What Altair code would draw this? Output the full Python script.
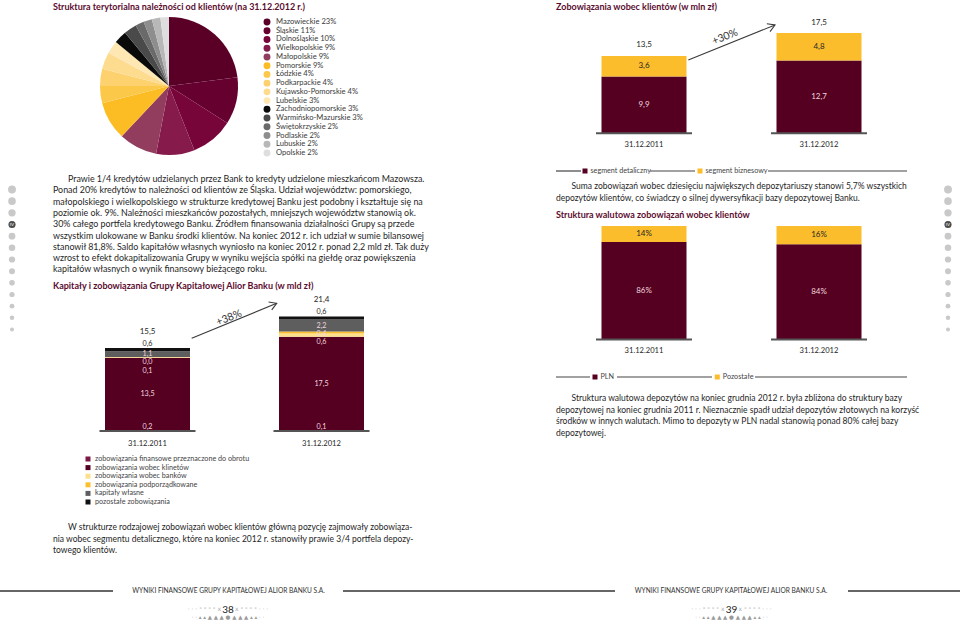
import altair as alt
import pandas as pd

FONT = "Lato"
MAROON = "#550020"
YELLOW = "#fbbd2c"
TXT = "#262626"
TITLE_C = "#5b0d2f"
LBL_LIGHT = "#efd6df"
RULE_C = "#555555"

# ---------------- data ----------------
regions = ["Mazowieckie", "Śląskie", "Dolnośląskie", "Wielkopolskie", "Małopolskie",
           "Pomorskie", "Łódzkie", "Podkarpackie", "Kujawsko-Pomorskie", "Lubelskie",
           "Zachodniopomorskie", "Warmińsko-Mazurskie", "Świętokrzyskie", "Podlaskie",
           "Lubuskie", "Opolskie"]
region_pct = [23, 11, 10, 9, 9, 9, 4, 4, 4, 3, 3, 3, 2, 2, 2, 2]
region_colors = ["#5a0027", "#66002f", "#78053a", "#851a4b", "#923d5e",
                 "#fbbc24", "#fcc84a", "#fdd26e", "#fddc90", "#fee7b3",
                 "#0a0a0a", "#4a4a4a", "#6a6a6a", "#8e8e8e", "#b8b8b8", "#dedede"]

kap_years = ["31.12.2011", "31.12.2012"]
kap_series = ["zobowiązania finansowe przeznaczone do obrotu", "zobowiązania wobec klinetów",
              "zobowiązania wobec banków", "zobowiązania podporządkowane",
              "kapitały własne", "pozostałe zobowiązania"]
kap_colors = ["#7d1744", MAROON, "#fde08c", "#fbc02d", "#5e5e5e", "#111111"]
kap_2011 = [0.2, 13.5, 0.1, 0.0, 1.1, 0.6]
kap_2012 = [0.1, 17.5, 0.6, 0.4, 2.2, 0.6]
kap_totals = [15.5, 21.4]

zob_years = ["31.12.2011", "31.12.2012"]
zob_series = ["segment detaliczny", "segment biznesowy"]
zob_detal = [9.9, 12.7]
zob_biz = [3.6, 4.8]
zob_totals = [13.5, 17.5]

wal_years = ["31.12.2011", "31.12.2012"]
wal_series = ["PLN", "Pozostałe"]
wal_pln = [86, 84]
wal_other = [14, 16]

par1 = ["Prawie 1/4 kredytów udzielanych przez Bank to kredyty udzielone mieszkańcom Mazowsza.",
        "Ponad 20% kredytów to należności od klientów ze Śląska. Udział województw: pomorskiego,",
        "małopolskiego i wielkopolskiego w strukturze kredytowej Banku jest podobny i kształtuje się na",
        "poziomie ok. 9%. Należności mieszkańców pozostałych, mniejszych województw stanowią ok.",
        "30% całego portfela kredytowego Banku. Źródłem finansowania działalności Grupy są przede",
        "wszystkim ulokowane w Banku środki klientów. Na koniec 2012 r. ich udział w sumie bilansowej",
        "stanowił 81,8%. Saldo kapitałów własnych wyniosło na koniec 2012 r. ponad 2,2 mld zł. Tak duży",
        "wzrost to efekt dokapitalizowania Grupy w wyniku wejścia spółki na giełdę oraz powiększenia",
        "kapitałów własnych o wynik finansowy bieżącego roku."]
par2 = ["W strukturze rodzajowej zobowiązań wobec klientów główną pozycję zajmowały zobowiąza-",
        "nia wobec segmentu detalicznego, które na koniec 2012 r. stanowiły prawie 3/4 portfela depozy-",
        "towego klientów."]
par3 = ["Suma zobowiązań wobec dziesięciu największych depozytariuszy stanowi 5,7% wszystkich",
        "depozytów klientów, co świadczy o silnej dywersyfikacji bazy depozytowej Banku."]
par4 = ["Struktura walutowa depozytów na koniec grudnia 2012 r. była zbliżona do struktury bazy",
        "depozytowej na koniec grudnia 2011 r. Nieznacznie spadł udział depozytów złotowych na korzyść",
        "środków w innych walutach. Mimo to depozyty w PLN nadal stanowią ponad 80% całej bazy",
        "depozytowej."]

footer_text = "WYNIKI FINANSOWE GRUPY KAPITAŁOWEJ ALIOR BANKU S.A."
side_dots = list(range(13))


def fmt(v):
    return f"{v:.1f}".replace(".", ",")


def T(text, x, y, size=8.4, color=TXT, weight="normal", align="left", angle=0, font=FONT):
    mk = dict(align=align, baseline="middle", fontSize=size, font=font, color=color, fontWeight=weight)
    if angle:
        mk["angle"] = angle
    return alt.Chart(pd.DataFrame({"t": [text]})).mark_text(**mk).encode(
        x=alt.value(x), y=alt.value(y), text="t:N")


def hline(x1, x2, y, color="#333333", w=1.3):
    return alt.Chart(pd.DataFrame({"a": [0]})).mark_rule(color=color, strokeWidth=w).encode(
        x=alt.value(x1), x2=alt.value(x2), y=alt.value(y))


def paragraph(lines, x0, indent, y0, lh, size=8.5):
    n = len(lines)
    df = pd.DataFrame({"t": lines, "i": list(range(n)), "ind": [1] + [0] * (n - 1)})
    return alt.Chart(df).mark_text(align="left", baseline="middle", fontSize=size, font=FONT,
                                   color=TXT).encode(
        x=alt.X("ind:Q", scale=alt.Scale(domain=[0, 1], range=[x0, x0 + indent], nice=False), axis=None),
        y=alt.Y("i:Q", scale=alt.Scale(domain=[0, n - 1], range=[y0, y0 + lh * (n - 1)], nice=False), axis=None),
        text="t:N")


def arrow(x1, y1, x2, y2, label, lx, ly, ang):
    line = alt.Chart(pd.DataFrame({"a": [0]})).mark_rule(color="#3a3a3a", strokeWidth=1.1).encode(
        x=alt.value(x1), y=alt.value(y1), x2=alt.value(x2), y2=alt.value(y2))
    head = alt.Chart(pd.DataFrame({"a": [0]})).mark_point(
        shape="M-1,-0.6L0,0L-1,0.6", filled=False, size=200, angle=ang, color="#3a3a3a",
        strokeWidth=1.1, opacity=1).encode(x=alt.value(x2), y=alt.value(y2))
    return [line, head, T(label, lx, ly, size=10.5, angle=ang, align="center", color="#333333")]


def stacked_bar(years, series, colors, values_by_year, xrange, pad_inner, y0px, ppu,
                label_colors, totals=None, total_dy=-10, spread=False, pct=False, xlab_y=None):
    rows = []
    for yr, vals in zip(years, values_by_year):
        cum = 0.0
        recs = []
        for k, (s, v) in enumerate(zip(series, vals)):
            lab = f"{v:.0f}%" if pct else fmt(v)
            recs.append(dict(year=yr, series=s, v=v, k=k, mid=cum + v / 2, top=cum + v,
                             lab=lab, tc=label_colors[k]))
            cum += v
        if spread:
            prev = None
            for r in reversed(recs):
                if r["k"] == len(series) - 1:
                    r["ly"] = r["top"] + 0.8
                elif r["k"] == 0:
                    r["ly"] = max(r["mid"], 0.75)
                else:
                    r["ly"] = min(r["mid"], prev - 1.55)
                prev = r["ly"]
        else:
            for r in recs:
                r["ly"] = r["mid"]
        rows += recs
    df = pd.DataFrame(rows)
    xs = alt.Scale(domain=years, range=xrange, paddingInner=pad_inner, paddingOuter=0)
    dom_max = 100 if pct else 25
    ys = alt.Scale(domain=[0, dom_max], range=[y0px, y0px - dom_max * ppu], nice=False)
    X = alt.X("year:N", scale=xs, axis=None)
    bars = alt.Chart(df).mark_bar().encode(
        x=X, y=alt.Y("v:Q", stack="zero", scale=ys, axis=None),
        color=alt.Color("series:N", scale=alt.Scale(domain=series, range=colors), legend=None),
        order=alt.Order("k:Q"))
    labels = alt.Chart(df).mark_text(fontSize=7.2 if spread else 8, font=FONT, baseline="middle").encode(
        x=X, y=alt.Y("ly:Q", scale=ys, axis=None), text="lab:N",
        color=alt.Color("tc:N", scale=None))
    base = alt.Chart(pd.DataFrame({"year": years, "z": [0, 0]})).mark_tick(
        orient="horizontal", size=96, thickness=2, color=RULE_C, opacity=1).encode(
        x=X, y=alt.Y("z:Q", scale=ys, axis=None))
    xl = alt.Chart(pd.DataFrame({"year": years})).mark_text(
        fontSize=7.6, font=FONT, color=TXT, baseline="middle").encode(
        x=X, y=alt.value(xlab_y), text="year:N")
    layers = [bars, base, labels, xl]
    if totals is not None:
        tdf = pd.DataFrame({"year": years, "t": totals, "lab": [fmt(t) for t in totals]})
        layers.append(alt.Chart(tdf).mark_text(fontSize=8, font=FONT, color=TXT, dy=total_dy,
                                               baseline="middle").encode(
            x=X, y=alt.Y("t:Q", scale=ys, axis=None), text="lab:N"))
    return alt.layer(*layers)


def square_legend_row(series, colors, xrange, y):
    df = pd.DataFrame({"s": series})
    X = alt.X("s:N", scale=alt.Scale(domain=series, range=xrange, padding=0), axis=None)
    sq = alt.Chart(df).mark_square(size=25, opacity=1).encode(
        x=X, y=alt.value(y), color=alt.Color("s:N", scale=alt.Scale(domain=series, range=colors), legend=None))
    tx = alt.Chart(df).mark_text(align="left", baseline="middle", dx=5.5, fontSize=7.2, font=FONT,
                                 color="#444444").encode(x=X, y=alt.value(y), text="s:N")
    return alt.layer(sq, tx)


layers = []

# ---------- pie ----------
pie_df = pd.DataFrame({"name": regions, "pct": region_pct, "k": list(range(len(regions)))})
pie_df["lab"] = [f"{n} {p}%" for n, p in zip(regions, region_pct)]
cs = alt.Scale(domain=regions, range=region_colors)
pie = alt.Chart(pie_df).mark_arc(radius=69).encode(
    theta=alt.Theta("pct:Q", stack=True), color=alt.Color("name:N", scale=cs, legend=None),
    order=alt.Order("k:Q"), x=alt.value(169), y=alt.value(86))
leg_y = alt.Y("name:N", sort=regions, scale=alt.Scale(domain=regions, range=[22, 153], padding=0), axis=None)
pie_pts = alt.Chart(pie_df).mark_circle(size=48, opacity=1).encode(
    x=alt.value(267), y=leg_y, color=alt.Color("name:N", scale=cs, legend=None))
pie_txt = alt.Chart(pie_df).mark_text(align="left", baseline="middle", fontSize=7.6, font=FONT,
                                      color="#3a3a3a").encode(x=alt.value(276), y=leg_y, text="lab:N")
layers.append(alt.layer(pie, pie_pts, pie_txt))
layers.append(T("Struktura terytorialna należności od klientów (na 31.12.2012 r.)", 53, 7,
                size=9, color=TITLE_C, weight="bold"))

# ---------- left paragraphs ----------
layers.append(paragraph(par1, 53, 15, 179, 11.3, size=8.9))
layers.append(T("Kapitały i zobowiązania Grupy Kapitałowej Alior Banku (w mld zł)", 53, 286,
                size=9, color=TITLE_C, weight="bold"))

# ---------- kapitały chart ----------
kap_lbl_colors = [LBL_LIGHT] * 5 + [TXT]
layers.append(stacked_bar(kap_years, kap_series, kap_colors, [kap_2011, kap_2012],
                          [105, 364], 89 / 174, 431, 5.355, kap_lbl_colors, totals=kap_totals,
                          total_dy=-16, spread=True, xlab_y=444))
layers += arrow(191.7, 338.3, 276.7, 303.3, "+38%", 229, 318, 338)

kdf = pd.DataFrame({"s": kap_series})
kY = alt.Y("s:N", scale=alt.Scale(domain=kap_series, range=[459, 502], padding=0), axis=None)
layers.append(alt.layer(
    alt.Chart(kdf).mark_square(size=25, opacity=1).encode(
        x=alt.value(88), y=kY,
        color=alt.Color("s:N", scale=alt.Scale(domain=kap_series, range=kap_colors), legend=None)),
    alt.Chart(kdf).mark_text(align="left", baseline="middle", fontSize=7.2, font=FONT,
                             color="#444444").encode(x=alt.value(95), y=kY, text="s:N")))

layers.append(paragraph(par2, 53, 15, 527, 11.5, size=8.5))

# ---------- right: zobowiązania ----------
layers.append(T("Zobowiązania wobec klientów (w mln zł)", 556, 7, size=9, color=TITLE_C, weight="bold"))
layers.append(stacked_bar(zob_years, zob_series, [MAROON, YELLOW], [[zob_detal[0], zob_biz[0]],
                                                                      [zob_detal[1], zob_biz[1]]],
                          [601.5, 861.5], 90 / 175, 133.3, 5.73, [LBL_LIGHT, TXT], totals=zob_totals,
                          total_dy=-10.5, xlab_y=145))
layers += arrow(688.3, 60, 775, 25, "+30%", 725, 37, 338)
layers.append(hline(556, 581, 171, "#444444", 1.2))
layers.append(hline(650, 695, 171, "#444444", 1.2))
layers.append(hline(768, 907, 171, "#444444", 1.2))
layers.append(square_legend_row(zob_series, [MAROON, YELLOW], [585, 700], 171))
layers.append(paragraph(par3, 556, 15.5, 186, 11.6, size=8.5))

# ---------- right: walutowa ----------
layers.append(T("Struktura walutowa zobowiązań wobec klientów", 556, 215, size=9, color=TITLE_C, weight="bold"))
layers.append(stacked_bar(wal_years, wal_series, [MAROON, YELLOW], [[wal_pln[0], wal_other[0]],
                                                                      [wal_pln[1], wal_other[1]]],
                          [601.5, 861.5], 90 / 175, 339.5, 1.135, [LBL_LIGHT, TXT], pct=True,
                          xlab_y=351))
layers.append(hline(556, 590, 377, "#444444", 1.2))
layers.append(hline(617, 712, 377, "#444444", 1.2))
layers.append(hline(755, 907, 377, "#444444", 1.2))
layers.append(square_legend_row(wal_series, [MAROON, YELLOW], [595, 717.3], 377))
layers.append(paragraph(par4, 556, 15.5, 398.3, 11.45, size=8.5))

# ---------- footers ----------
for (l1, l2, tx, r1, r2, num, nx) in [(0, 113, 228.5, 343, 480, "38", 228),
                                        (480, 615, 731, 848, 960, "39", 731.5)]:
    layers.append(hline(l1, l2, 591, "#333333", 1.6))
    layers.append(hline(r1, r2, 591, "#333333", 1.6))
    layers.append(T(footer_text, tx, 591, size=6.6, align="center", color="#333333"))
    layers.append(T(num, nx, 610, size=10, align="center", color="#222222"))
    layers.append(T("·    ·    ·    ˣ    ˣ    ˣ    ˣ    x", nx - 7, 609, size=6, align="right",
                    color="#aaaaaa", font="DejaVu Sans"))
    layers.append(T("x    ˣ    ˣ    ˣ    ˣ    ·    ·    ·", nx + 7, 609, size=6, align="left",
                    color="#aaaaaa", font="DejaVu Sans"))
    layers.append(T("·  ·  ▴  ▴  ▲  ▲  ▲  ●  ▲  ▲  ▲  ▴  ▴  ·  ·", nx, 617, size=5.5, align="center",
                    color="#9a9a9a", font="DejaVu Sans"))

# ---------- side dots ----------
dots_df = pd.DataFrame({"i": side_dots * 2,
                        "side": ["L"] * len(side_dots) + ["R"] * len(side_dots)})
dots_df["c"] = ["#4a4a4a" if i == 3 else "#c9c9c9" for i in dots_df["i"]]
dX = alt.X("side:N", scale=alt.Scale(domain=["L", "R"], range=[12, 948], padding=0), axis=None)
dY = alt.Y("i:Q", scale=alt.Scale(domain=[0, 12], range=[189.5, 329.5], nice=False), axis=None)
dots = alt.Chart(dots_df).mark_circle(opacity=1).encode(
    x=dX, y=dY, color=alt.Color("c:N", scale=None),
    size=alt.Size("i:Q", scale=alt.Scale(domain=[0, 12], range=[62, 16], zero=False), legend=None))
dots_iv = alt.Chart(dots_df).transform_filter("datum.i == 3").mark_text(
    fontSize=4.5, font=FONT, color="white", baseline="middle").encode(x=dX, y=dY, text=alt.value("IV"))
layers.append(alt.layer(dots, dots_iv))

chart = alt.layer(*layers).properties(
    width=960, height=623, autosize=alt.AutoSizeParams(type="none"), padding=0
).resolve_scale(
    x="independent", y="independent", color="independent", size="independent", theta="independent"
).configure(background="white").configure_view(strokeWidth=0)

chart.save("out.html", embed_options={"renderer": "svg", "actions": False})
